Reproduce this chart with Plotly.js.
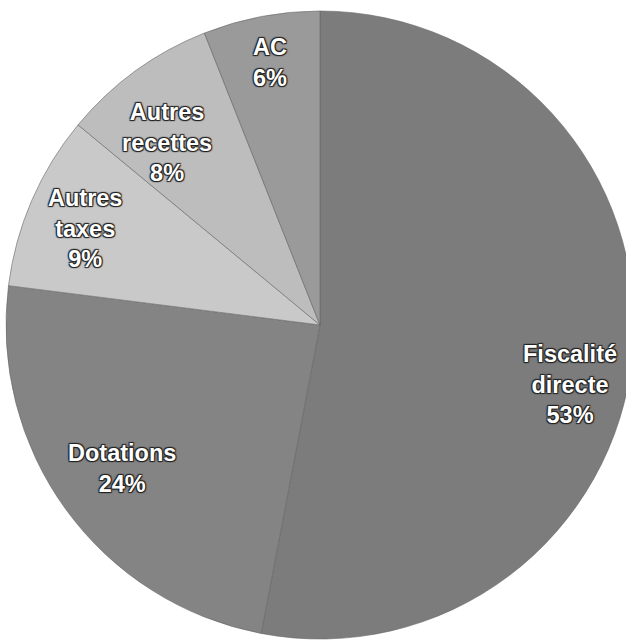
<!DOCTYPE html>
<html>
<head>
<meta charset="utf-8">
<script src="https://cdn.plot.ly/plotly-3.0.1.min.js"></script>
<style>
html, body { margin: 0; padding: 0; overflow: hidden; background: #ffffff; }
#chart { width: 640px; height: 650px; }
</style>
</head>
<body>
<div id="chart"></div>
<script>
// ---- data ----
const categories = ["Fiscalité directe", "Dotations", "Autres taxes", "Autres recettes", "AC"];
const shares = [53, 24, 9, 8, 6];

// ---- styling ----
const sliceColors = ["#7c7c7c", "#848484", "#c9c9c9", "#bdbdbd", "#9a9a9a"];
const labelRadius = [0.82, 0.78, 0.81, 0.76, 0.85];
const labelAngleShift = [8, 0, -1, -4, 0];

const W = 640, H = 650;
const cx = 320, cy = 325, R = 314;

const total = shares.reduce((a, b) => a + b, 0);
let cum = 0;
const annotations = shares.map((v, i) => {
  const mid = (cum + v / 2) / total * 360 + labelAngleShift[i];
  cum += v;
  const rad = mid * Math.PI / 180;
  const px = cx + labelRadius[i] * R * Math.sin(rad);
  const py = cy - labelRadius[i] * R * Math.cos(rad);
  return {
    xref: "paper", yref: "paper",
    x: px / W, y: 1 - py / H,
    xanchor: "center", yanchor: "middle",
    showarrow: false,
    text: categories[i].split(" ").join("<br>") + "<br>" + Math.round(v / total * 100) + "%",
    align: "center",
    font: {
      family: "Liberation Sans, Arial, sans-serif",
      size: 23.5, weight: 700, color: "#ffffff",
      shadow: "1px 1px 1px #222, -1px -1px 1px #222, 1px -1px 1px #222, -1px 1px 1px #222"
    }
  };
});

const trace = {
  type: "pie",
  labels: categories,
  values: shares,
  sort: false,
  direction: "clockwise",
  rotation: 0,
  textinfo: "none",
  hoverinfo: "label+percent",
  marker: { colors: sliceColors, line: { color: "#666666", width: 0.6 } },
  domain: { x: [(cx - R) / W, (cx + R) / W], y: [0, 1] }
};

const layout = {
  width: W, height: H,
  margin: { l: 0, r: 0, t: 0, b: 0, pad: 0 },
  showlegend: false,
  paper_bgcolor: "#ffffff",
  annotations: annotations
};

Plotly.newPlot("chart", [trace], layout, { displayModeBar: false, staticPlot: true });
</script>
</body>
</html>
